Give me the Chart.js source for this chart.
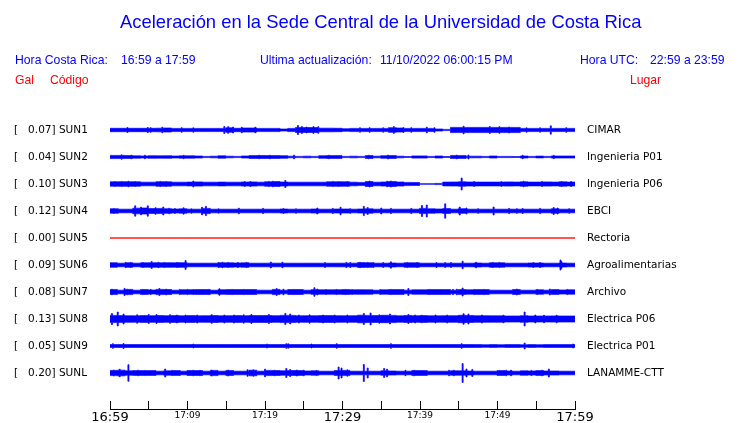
<!DOCTYPE html>
<html>
<head>
<meta charset="utf-8">
<script src="https://cdn.jsdelivr.net/npm/chart.js@4.4.0/dist/chart.umd.min.js"></script>
<style>
  html, body { margin: 0; padding: 0; background: #fff; }
  #wrap { position: relative; width: 740px; height: 423px; overflow: hidden; }
  canvas { position: absolute; left: 0; top: 0; }
  .t { position: absolute; font-family: "Liberation Sans", Arial, sans-serif; white-space: pre; }
  .blue { color: #0000ff; }
  .red { color: #ff0000; }
</style>
</head>
<body>
<div id="wrap">
  <canvas id="c" width="740" height="423"></canvas>
  <div class="t blue" style="left:120px; top:11px; font-size:18.4px; line-height:22px;">Aceleración en la Sede Central de la Universidad de Costa Rica</div>
  <div class="t blue" style="left:15px; top:53px; font-size:12.2px; line-height:14px;">Hora Costa Rica:</div>
  <div class="t blue" style="left:121px; top:53px; font-size:12.2px; line-height:14px;">16:59 a 17:59</div>
  <div class="t blue" style="left:260px; top:53px; font-size:12.2px; line-height:14px;">Ultima actualización:</div>
  <div class="t blue" style="left:380px; top:53px; font-size:12.2px; line-height:14px;">11/10/2022 06:00:15 PM</div>
  <div class="t blue" style="left:580px; top:53px; font-size:12.2px; line-height:14px;">Hora UTC:</div>
  <div class="t blue" style="left:650px; top:53px; font-size:12.2px; line-height:14px;">22:59 a 23:59</div>
  <div class="t red" style="left:15px; top:73px; font-size:12.2px; line-height:14px;">Gal</div>
  <div class="t red" style="left:50px; top:73px; font-size:12.2px; line-height:14px;">Código</div>
  <div class="t red" style="left:630px; top:73px; font-size:12.2px; line-height:14px;">Lugar</div>
</div>
<script>
// ---------------- data ----------------
const codes = ['SUN1','SUN2','SUN3','SUN4','SUN5','SUN6','SUN7','SUN8','SUN9','SUNL'];
const places = ['CIMAR','Ingenieria P01','Ingenieria P06','EBCI','Rectoria','Agroalimentarias','Archivo','Electrica P06','Electrica P01','LANAMME-CTT'];
const peakGal = [0.07,0.04,0.10,0.12,0.00,0.09,0.08,0.13,0.05,0.20];
const tickMinutes = [0,5,10,15,20,25,30,35,40,45,50,55,60];
const timeLabels = ['16:59','17:09','17:19','17:29','17:39','17:49','17:59'];

// per-minute envelope (half amplitude) and isolated spikes [minute, half amplitude]
const sun1Base = [1.7,1.7,1.7,1.7,1.7,1.7,1.8,2.0,1.6,1.6, 1.6,1.6,1.6,1.6,1.6,2.2,1.7,2.0,2.0,1.6, 1.6,1.6,1.0,1.6,2.5,2.5,2.5,1.8,1.8,1.7, 1.3,1.6,1.6,1.6,1.6,1.6,2.3,2.0,1.6,1.6, 1.6,1.6,1.0,0.6,2.6,2.6,2.6,2.6,2.6,2.6, 2.6,2.6,2.6,1.6,1.6,1.6,1.6,1.6,1.6,1.6];
const sun1Spikes = [[2.2,2.5],[4.9,2.5],[5.2,2.3],[6.8,2.8],[9.2,2.3],[10.8,2.2],[14.8,3.5],[15.3,3.3],[15.9,3.0],[17.0,2.8],[18.7,2.8],[24.3,4.5],[24.7,3.5],[25.4,3.0],[26.2,3.4],[26.9,3.3],[32.3,2.2],[33.5,2.3],[35.3,2.2],[36.6,3.4],[37.9,2.4],[38.9,2.3],[40.9,2.8],[41.9,2.3],[45.6,3.8],[49.0,3.4],[50.3,3.3],[51.5,3.0],[53.8,2.2],[55.5,2.2],[56.9,4.2],[58.9,2.3]];

const sun2Base = [1.6,1.6,1.4,1.2,1.0,1.3,1.2,1.3,1.0,1.2, 1.2,1.0,0.6,0.8,1.2,0.8,0.6,1.0,1.4,1.5, 1.4,1.4,1.3,0.8,0.6,0.8,0.6,1.3,1.4,1.4, 0.6,0.8,0.6,1.4,0.8,1.3,1.4,0.8,0.5,1.1, 1.1,0.6,1.0,0.5,1.4,1.4,0.8,0.8,0.6,1.0, 0.6,0.6,0.5,1.0,0.6,0.9,0.6,1.0,1.0,1.0];
const sun2Spikes = [[1.5,2.2],[2.8,1.8],[4.5,1.8],[9.5,1.7],[19.2,1.8],[20.6,1.8],[23.8,1.8],[28.3,1.8],[33.4,1.8],[35.9,2.0],[44.8,1.9],[46.2,2.0],[53.3,1.7],[57.3,1.7]];

const sun3Base = [2.2,2.3,2.3,2.2,1.8,1.8,2.3,2.2,1.8,1.8, 1.9,2.1,1.8,1.8,1.9,1.8,1.8,2.0,2.1,1.8, 2.2,2.4,2.0,1.8,1.8,1.8,1.8,1.8,2.2,2.3, 2.2,1.8,1.6,2.4,1.8,2.0,2.5,2.0,1.6,1.5, 0.3,0.3,0.6,1.9,2.0,2.2,2.0,1.9,1.9,1.9, 1.9,2.1,1.9,2.2,1.9,1.9,2.1,1.9,2.2,1.9];
const sun3Spikes = [[0.6,2.5],[1.5,2.6],[2.4,2.8],[3.2,2.5],[6.5,2.6],[7.3,2.5],[10.8,3.0],[17.4,2.4],[18.1,2.5],[20.5,2.6],[21.0,2.8],[22.6,3.5],[28.7,2.6],[29.5,2.5],[30.6,2.4],[33.5,3.0],[35.8,2.7],[36.2,3.0],[36.8,2.6],[45.4,6.0],[47.0,2.4],[50.5,2.4],[53.4,2.8],[55.7,2.4],[58.3,2.5],[59.5,2.5]];

const sun4Base = [2.2,1.8,1.8,2.8,3.0,2.5,2.6,2.3,2.0,2.2, 1.8,1.8,2.6,1.8,1.8,1.8,1.8,1.8,1.8,1.8, 1.8,1.8,2.0,1.8,1.8,1.8,2.0,1.8,1.8,2.0, 2.0,1.8,2.0,2.2,1.8,1.8,1.8,1.8,1.8,1.8, 2.6,2.2,2.0,2.4,1.8,2.3,1.8,1.8,1.8,1.8, 1.8,1.8,1.8,1.8,1.8,1.8,1.8,2.2,1.8,1.8];
const sun4Spikes = [[0.5,2.5],[1.0,2.3],[3.3,5.2],[4.0,3.8],[4.9,5.2],[5.9,3.3],[6.9,4.0],[7.6,2.8],[8.4,2.4],[9.5,3.2],[10.5,2.2],[11.9,3.8],[12.4,4.6],[14.0,2.2],[16.6,2.8],[19.8,2.6],[22.4,2.4],[24.0,2.2],[26.7,3.0],[28.8,2.6],[29.8,3.8],[31.0,2.3],[32.7,4.6],[33.3,3.5],[35.0,3.0],[36.2,2.6],[38.9,2.6],[40.2,5.5],[40.9,6.0],[43.3,7.2],[45.1,4.0],[46.0,3.0],[47.5,2.3],[49.5,4.0],[51.5,2.6],[52.5,2.3],[53.3,2.5],[55.5,2.6],[57.3,3.5],[57.8,3.0],[59.3,2.3]];

const sun5Base = [0,0,0,0,0,0,0,0,0,0, 0,0,0,0,0,0,0,0,0,0, 0,0,0,0,0,0,0,0,0,0, 0,0,0,0,0,0,0,0,0,0, 0,0,0,0,0,0,0,0,0,0, 0,0,0,0,0,0,0,0,0,0];
const sun5Spikes = [];

const sun6Base = [2.3,1.8,2.3,1.8,2.2,2.3,2.2,2.3,2.2,2.3, 1.8,1.8,1.8,1.8,2.2,2.2,2.0,2.2,1.8,1.8, 1.8,1.8,1.8,1.8,1.8,1.8,1.8,1.8,1.8,1.8, 1.8,1.8,2.4,2.3,1.8,1.8,2.0,1.8,2.2,2.2, 1.8,1.8,1.8,1.8,1.8,1.8,1.8,2.0,1.8,2.2, 2.2,1.8,1.8,1.8,2.0,2.0,1.8,1.8,2.0,1.8];
const sun6Spikes = [[2.0,2.6],[2.6,2.6],[4.3,2.5],[5.4,3.5],[6.3,2.7],[7.0,2.6],[8.6,2.6],[8.9,2.4],[9.7,4.5],[14.0,2.5],[14.5,2.8],[15.3,2.6],[16.5,2.5],[17.6,2.6],[20.7,3.0],[22.2,2.8],[27.7,2.4],[30.5,2.6],[31.0,2.5],[32.3,2.7],[33.3,2.6],[34.0,2.4],[35.3,2.4],[36.3,3.2],[38.4,2.6],[39.6,2.5],[42.1,2.4],[43.2,2.4],[44.0,2.4],[45.5,3.8],[47.3,2.8],[49.4,2.6],[50.2,2.6],[54.6,2.5],[55.5,2.5],[58.1,5.0],[58.3,3.5]];

const sun7Base = [2.4,1.8,2.6,1.8,2.4,2.0,2.6,2.5,1.8,2.3, 2.3,2.4,2.4,1.8,2.3,2.4,2.4,2.4,2.4,1.8, 1.8,2.6,1.8,2.5,2.5,1.8,2.3,2.2,2.2,2.3, 2.4,2.2,2.3,2.2,1.8,2.2,2.4,2.4,1.8,2.2, 2.2,2.4,2.4,2.4,1.8,2.4,2.2,2.4,2.4,1.8, 1.8,1.8,2.4,1.8,1.8,2.2,1.8,2.4,2.0,2.2];
const sun7Spikes = [[0.3,2.8],[0.9,2.6],[1.9,3.6],[2.2,2.8],[4.3,2.6],[5.2,2.6],[6.4,3.5],[7.3,2.9],[9.0,2.6],[10.0,2.6],[10.8,2.5],[11.9,2.5],[12.7,2.6],[14.1,3.3],[15.8,2.6],[17.2,2.6],[18.2,2.5],[21.5,3.5],[22.4,2.8],[23.7,2.6],[26.4,4.3],[26.8,3.0],[27.9,2.5],[29.2,2.6],[30.4,2.6],[31.3,2.4],[34.9,2.5],[36.3,2.6],[38.5,3.5],[41.3,2.6],[42.6,2.5],[44.2,2.6],[44.8,2.8],[45.5,4.0],[47.0,2.6],[48.2,2.6],[52.5,3.0],[55.1,2.6],[56.7,3.0],[59.0,2.6]];

const sun8Base = [3.6,3.4,3.3,3.2,3.4,3.3,3.5,3.3,3.4,3.2, 3.4,3.2,3.3,3.5,3.2,3.3,3.4,3.3,3.5,3.4, 3.5,3.3,3.6,3.6,3.2,3.3,3.3,3.4,3.4,3.3, 3.2,3.3,3.8,3.6,3.4,3.7,3.6,3.2,3.5,3.3, 3.4,3.2,3.2,3.3,3.3,3.7,3.5,3.3,3.3,3.2, 3.2,3.0,3.0,3.3,3.0,3.0,3.0,3.1,3.0,3.0];
const sun8Spikes = [[0.2,5.5],[0.95,7.0],[1.7,5.0],[3.5,4.2],[5.0,4.5],[6.0,4.5],[7.8,4.3],[8.6,4.0],[9.7,4.0],[11.2,4.0],[13.1,4.3],[14.8,4.0],[16.0,4.0],[17.2,4.2],[18.3,4.5],[20.5,4.5],[22.6,5.5],[23.3,5.0],[24.4,4.0],[25.8,4.2],[27.5,4.0],[29.0,4.0],[30.6,4.0],[32.7,5.5],[33.6,6.0],[34.8,4.2],[36.1,5.0],[38.5,4.5],[39.4,4.0],[40.3,3.8],[42.0,4.0],[43.5,4.0],[45.6,5.3],[46.3,5.0],[48.0,4.0],[50.8,3.8],[53.5,7.0],[54.9,4.0],[56.0,3.7],[57.6,3.8]];

const sun9Base = [1.5,1.5,1.5,1.5,1.5,1.5,1.5,1.5,1.5,1.5, 1.5,1.5,1.5,1.5,1.5,1.5,1.5,1.5,1.5,1.5, 1.5,1.5,1.5,1.5,1.5,1.5,1.5,1.5,1.5,1.5, 1.5,1.5,1.5,1.5,1.5,1.5,1.5,1.5,1.5,1.5, 1.5,1.5,1.5,1.5,1.5,1.5,1.5,1.4,1.3,1.4, 1.3,1.4,1.4,1.3,1.4,1.3,1.4,1.4,1.4,1.4];
const sun9Spikes = [[0.4,2.3],[1.7,2.5],[10.8,2.0],[20.3,2.0],[22.8,2.3],[23.0,2.2],[26.0,2.0],[29.3,2.3],[36.3,2.3],[45.4,2.3],[53.5,3.0],[59.8,2.0]];

const sunLBase = [2.6,2.8,2.2,2.4,2.4,2.4,1.8,2.2,2.4,1.8, 2.5,2.5,1.8,2.6,1.8,2.4,1.8,1.8,2.8,1.8, 2.6,2.5,2.2,2.5,2.4,2.0,2.2,1.8,1.8,2.4, 2.6,1.8,1.8,1.8,1.8,2.2,2.0,1.8,1.8,2.4, 2.4,1.8,1.8,1.8,2.2,2.2,2.0,1.8,1.8,1.8, 2.4,2.0,1.8,2.2,2.0,2.4,2.0,2.0,1.8,1.8];
const sunLSpikes = [[0.5,3.0],[1.3,3.8],[2.4,8.3],[3.6,2.8],[4.5,2.6],[7.1,4.0],[8.0,2.6],[9.0,2.5],[10.7,2.8],[11.6,2.7],[13.1,3.0],[15.3,3.0],[17.8,3.3],[18.5,3.2],[20.0,3.8],[21.3,2.8],[22.8,4.5],[23.2,3.5],[24.1,3.0],[25.0,2.8],[26.6,2.6],[29.5,6.0],[29.9,5.0],[30.6,3.2],[32.8,8.5],[33.2,5.0],[35.4,4.5],[35.8,3.8],[38.1,2.7],[39.3,2.8],[43.7,2.8],[44.4,2.8],[45.5,9.5],[46.0,4.0],[46.8,3.5],[51.1,2.8],[51.8,2.8],[54.4,2.6],[55.7,2.8],[56.6,4.0]];

// ---------------- build ----------------
const bases = [sun1Base,sun2Base,sun3Base,sun4Base,sun5Base,sun6Base,sun7Base,sun8Base,sun9Base,sunLBase];
const spikes = [sun1Spikes,sun2Spikes,sun3Spikes,sun4Spikes,sun5Spikes,sun6Spikes,sun7Spikes,sun8Spikes,sun9Spikes,sunLSpikes];
const SLOT = 27, STEP = 0.125, YMAX = 292;
const centers = codes.map((_, i) => SLOT / 2 - 0.5 + SLOT * i);

function envelope(i) {
  const base = bases[i], sp = spikes[i], out = [];
  const n = Math.round(60 / STEP);
  for (let k = 0; k <= n; k++) {
    const m = k * STEP;
    let a = base[Math.min(59, Math.floor(m))];
    for (const [sm, sa] of sp) {
      if (Math.abs(m - sm) <= STEP / 2) a = Math.max(a, sa);
    }
    out.push([m, a]);
  }
  return out;
}

const datasets = [];
codes.forEach((code, i) => {
  const env = envelope(i), c = centers[i];
  const col = peakGal[i] === 0 ? '#ff0000' : '#0000ff';
  datasets.push({
    label: code + ' +', data: env.map(([m, a]) => ({ x: m, y: c - a })),
    borderColor: col, borderWidth: peakGal[i] === 0 ? 1 : 0.8, pointRadius: 0,
    stepped: 'middle', fill: false, yAxisID: 'y'
  });
  datasets.push({
    label: code + ' -', data: env.map(([m, a]) => ({ x: m, y: c + a })),
    borderColor: col, borderWidth: peakGal[i] === 0 ? 1 : 0.8, pointRadius: 0,
    stepped: 'middle', fill: '-1', backgroundColor: col, yAxisID: 'y'
  });
});

const labelFont = { family: 'DejaVu Sans', size: 10.5 };
function idxOf(v) { return centers.findIndex(c => Math.abs(c - v) < 0.01); }

new Chart(document.getElementById('c'), {
  type: 'line',
  data: { datasets },
  options: {
    responsive: false,
    animation: false,
    events: [],
    parsing: false,
    normalized: true,
    layout: { padding: { left: 14, right: 0, top: 117, bottom: 0 } },
    plugins: { legend: { display: false }, tooltip: { enabled: false }, title: { display: false }, filler: { propagate: false } },
    scales: {
      x: {
        type: 'linear', min: 0, max: 60, position: 'bottom',
        afterFit: s => { s.height = 14; },
        afterBuildTicks: s => { s.ticks = tickMinutes.map(v => ({ value: v })); },
        border: { display: true, color: '#000', width: 1 },
        grid: { display: true, drawOnChartArea: false, drawTicks: true, tickLength: -8, color: '#000', lineWidth: 1 },
        ticks: {
          autoSkip: false, maxRotation: 0, minRotation: 0, padding: 9, color: '#000',
          callback: v => (v % 10 === 0 ? timeLabels[v / 10] : ''),
          font: ctx => (ctx.tick && ctx.tick.value % 30 === 0)
            ? { family: 'DejaVu Sans', size: 13, lineHeight: 1.1 }
            : { family: 'DejaVu Sans', size: 9, lineHeight: 1.3 }
        }
      },
      y: {
        type: 'linear', min: 0, max: YMAX, reverse: true, position: 'left',
        afterFit: s => { s.width = 96; },
        afterBuildTicks: s => { s.ticks = centers.map(v => ({ value: v })); },
        grid: { display: false, drawTicks: false },
        border: { display: false },
        ticks: {
          crossAlign: 'far', padding: 0, color: '#000', font: labelFont, autoSkip: false,
          callback: v => { const i = idxOf(v); return i < 0 ? '' : '[   ' + peakGal[i].toFixed(2) + '] ' + codes[i]; }
        }
      },
      y2: {
        type: 'linear', min: 0, max: YMAX, reverse: true, position: 'right',
        afterFit: s => { s.width = 165; },
        afterBuildTicks: s => { s.ticks = centers.map(v => ({ value: v })); },
        grid: { display: true, drawOnChartArea: false, drawTicks: true, tickLength: 12, color: 'rgba(0,0,0,0)' },
        border: { display: false },
        ticks: {
          padding: 0, color: '#000', font: labelFont, autoSkip: false,
          callback: v => { const i = idxOf(v); return i < 0 ? '' : places[i]; }
        }
      }
    }
  }
});
</script>
</body>
</html>
